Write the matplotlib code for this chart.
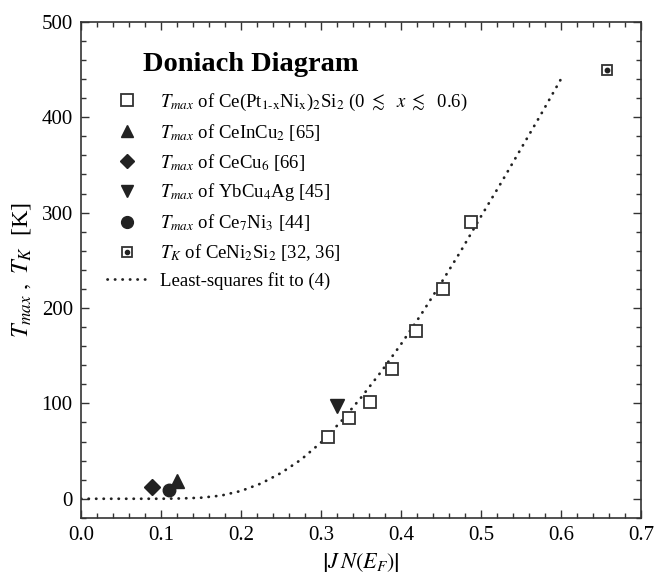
import matplotlib
matplotlib.use("Agg")
import matplotlib.pyplot as plt
from matplotlib.lines import Line2D
from matplotlib.ticker import MultipleLocator

plt.rcParams['font.family'] = ['Liberation Serif', 'DejaVu Serif']
plt.rcParams['mathtext.fontset'] = 'stix'

# Data
ptni_x = [0.309, 0.335, 0.361, 0.389, 0.419, 0.452, 0.487]
ptni_y = [65, 85, 101, 136, 176, 220, 290]
ceincu2_x, ceincu2_y = [0.120], [19]
cecu6_x, cecu6_y = [0.089], [12]
ybcu4ag_x, ybcu4ag_y = [0.320], [97]
ce7ni3_x, ce7ni3_y = [0.110], [9]
ceni2si2_x, ceni2si2_y = [0.657], [450]

fit_x = [0.0, 0.025, 0.05, 0.075, 0.1, 0.125, 0.15, 0.175, 0.2, 0.225, 0.25,
         0.275, 0.3, 0.325, 0.35, 0.375, 0.4, 0.425, 0.45, 0.475, 0.5, 0.525,
         0.55, 0.575, 0.6]
fit_y = [0, 0, 0, 0, 0.02, 0.3, 1.1, 3.3, 8.2, 16, 27, 41, 59, 81, 106, 133,
         162, 193, 226, 260, 296, 331, 367, 403, 440]

fig = plt.figure(figsize=(6.54, 5.76), dpi=100)
ax = fig.add_axes([0.124, 0.101, 0.856, 0.861])

dark = '#222222'
dot_style = (0, (0.1, 2.6))
ax.plot(fit_x, fit_y, color=dark, lw=2.0, linestyle=dot_style,
        dash_capstyle='round', zorder=2)
ax.plot(ptni_x, ptni_y, 's', ms=8.5, mfc='white', mec='#333333', mew=1.3, zorder=3)
ax.plot(ceincu2_x, ceincu2_y, '^', ms=9.5, color=dark, zorder=3)
ax.plot(cecu6_x, cecu6_y, 'D', ms=8, color=dark, zorder=3)
ax.plot(ybcu4ag_x, ybcu4ag_y, 'v', ms=9.5, color=dark, zorder=3)
ax.plot(ce7ni3_x, ce7ni3_y, 'o', ms=9, color=dark, zorder=3)
ax.plot(ceni2si2_x, ceni2si2_y, 's', ms=7.5, mfc='white', mec='#333333', mew=1.3, zorder=3)
ax.plot(ceni2si2_x, ceni2si2_y, 'o', ms=3.2, color=dark, zorder=4)

ax.set_xlim(0, 0.7)
ax.set_ylim(-20, 500)
ax.xaxis.set_major_locator(MultipleLocator(0.1))
ax.xaxis.set_minor_locator(MultipleLocator(0.02))
ax.yaxis.set_major_locator(MultipleLocator(100))
ax.yaxis.set_minor_locator(MultipleLocator(20))
ax.xaxis.set_major_formatter(matplotlib.ticker.FormatStrFormatter('%.1f'))
ax.tick_params(which='both', direction='in', top=True, right=True,
               labelsize=15, color='#333333', width=1.0)
ax.tick_params(which='major', length=6, pad=6)
ax.tick_params(which='minor', length=3.5)
for s in ax.spines.values():
    s.set_linewidth(1.2)
    s.set_color('#333333')

ax.set_xlabel(r'$\left|J\,N(E_F)\right|$', fontsize=16, labelpad=4)
ax.set_ylabel(r'$T_{max}\ ,\ T_K$  [K]', fontsize=17.5, labelpad=6)

ax.text(0.110, 0.915, 'Doniach Diagram', transform=ax.transAxes,
        fontsize=20.5, fontweight='bold', va='center', ha='left')

sq = Line2D([], [], marker='s', ls='none', ms=8, mfc='white', mec='#333333', mew=1.3)
tri = Line2D([], [], marker='^', ls='none', ms=9, color=dark)
dia = Line2D([], [], marker='D', ls='none', ms=7.5, color=dark)
tdn = Line2D([], [], marker='v', ls='none', ms=9, color=dark)
cir = Line2D([], [], marker='o', ls='none', ms=8.5, color=dark)
sq2 = Line2D([], [], marker='s', ls='none', ms=7, mfc='white', mec='#333333', mew=1.3)
dot = Line2D([], [], marker='o', ls='none', ms=3, color=dark)
fitl = Line2D([], [], color=dark, lw=2.0, linestyle=dot_style, dash_capstyle='round')

labels = [
    r'$T_{max}$ of Ce(Pt$_{\rm 1\text{-}x}$Ni$_{\rm x}$)$_2$Si$_2$ (0 $\lesssim$  $x$ $\lesssim$  0.6)',
    r'$T_{max}$ of CeInCu$_2$ [65]',
    r'$T_{max}$ of CeCu$_6$ [66]',
    r'$T_{max}$ of YbCu$_4$Ag [45]',
    r'$T_{max}$ of Ce$_7$Ni$_3$ [44]',
    r'$T_K$ of CeNi$_2$Si$_2$ [32, 36]',
    'Least-squares fit to (4)',
]
leg = ax.legend([sq, tri, dia, tdn, cir, (sq2, dot), fitl], labels,
                loc='upper left', bbox_to_anchor=(0.032, 0.874), frameon=False,
                fontsize=13.5, handlelength=2.2, handletextpad=0.65,
                labelspacing=0.47, borderaxespad=0)

fig.savefig('out.png', dpi=100)
